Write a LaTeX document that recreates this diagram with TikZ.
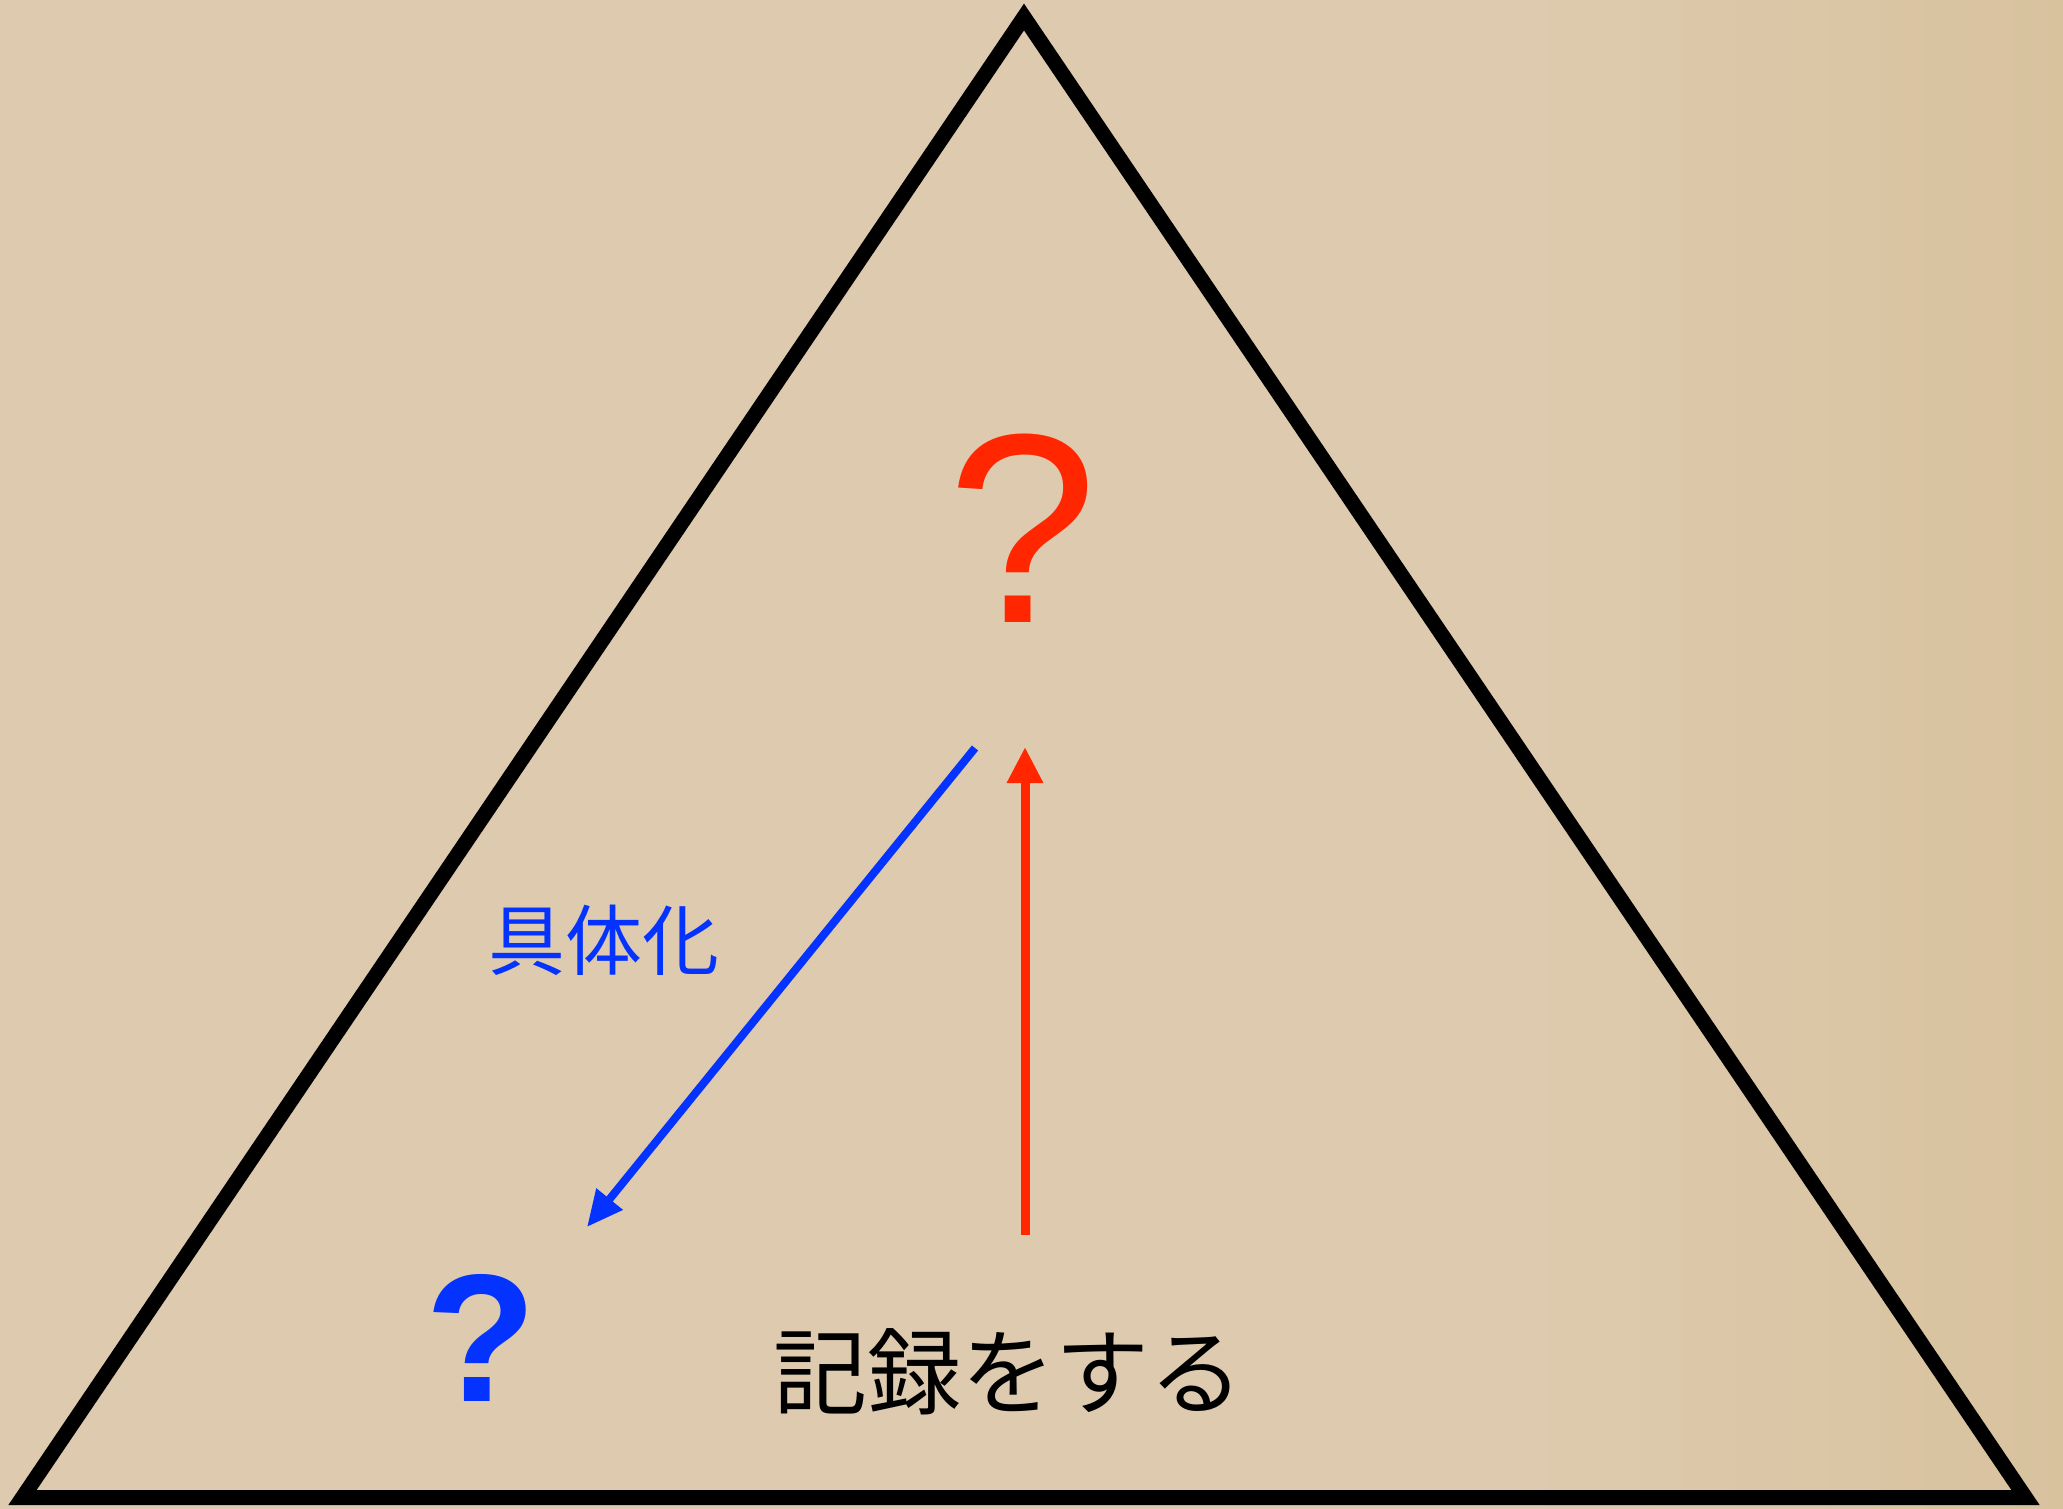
\documentclass[tikz,border=0pt]{standalone}
\usepackage{fontspec}
\setmainfont{Liberation Sans}
\newfontfamily\jpfont{Noto Sans CJK JP}
\usepackage{tikz}
\usetikzlibrary{arrows.meta}

\definecolor{paper}{RGB}{222,203,175}
\definecolor{paperdark}{RGB}{216,194,158}
\definecolor{qred}{RGB}{255,38,0}
\definecolor{qblue}{RGB}{4,51,255}

\tikzset{
  txt/.style={inner sep=0pt},
  redarrow/.style={draw=qred, line width=4.5pt, -{Triangle[length=18pt,width=17pt]}},
  bluearrow/.style={draw=qblue, line width=4pt, -{Triangle[length=18pt,width=16pt]}},
}

\begin{document}
\begin{tikzpicture}[x=0.5pt,y=0.5pt,yscale=-1,xscale=1]
\useasboundingbox (0,0) rectangle (2063,1509);
% Background
\fill[paper] (0,0) rectangle (1500,1509);
\shade[left color=paper, right color=paperdark] (1500,0) rectangle (2063,1509);

% Triangle
\coordinate (top) at (1024,17);
\coordinate (botleft) at (22.5,1497.5);
\coordinate (botright) at (2025.5,1497.5);
\draw[line width=7.5pt, line join=miter] (top) -- (botleft) -- (botright) -- cycle;

% Text Node
\node[txt, anchor=base, text=qred, font=\fontsize{135pt}{140pt}\selectfont] (upq) at (1023,622) {?};
% Text Node
\node[txt, anchor=base, text=qblue, font=\fontsize{91pt}{95pt}\selectfont\bfseries] (lowq) at (481,1401) {?};
% Text Node
\node[txt, text=qblue, font=\jpfont\fontsize{38.5pt}{42pt}\selectfont] (concr) at (604,940) {具体化};
% Text Node
\node[txt, font=\jpfont\fontsize{47pt}{50pt}\selectfont] (record) at (1008,1372) {記録をする};

% Connection
\coordinate (bstart) at (975,748);
\coordinate (bend) at (587,1227);
\draw[bluearrow] (bstart) -- (bend);
% Connection
\coordinate (rstart) at (1025,1235);
\coordinate (rend) at (1025,747);
\draw[redarrow] (rstart) -- (rend);

\end{tikzpicture}
\end{document}
